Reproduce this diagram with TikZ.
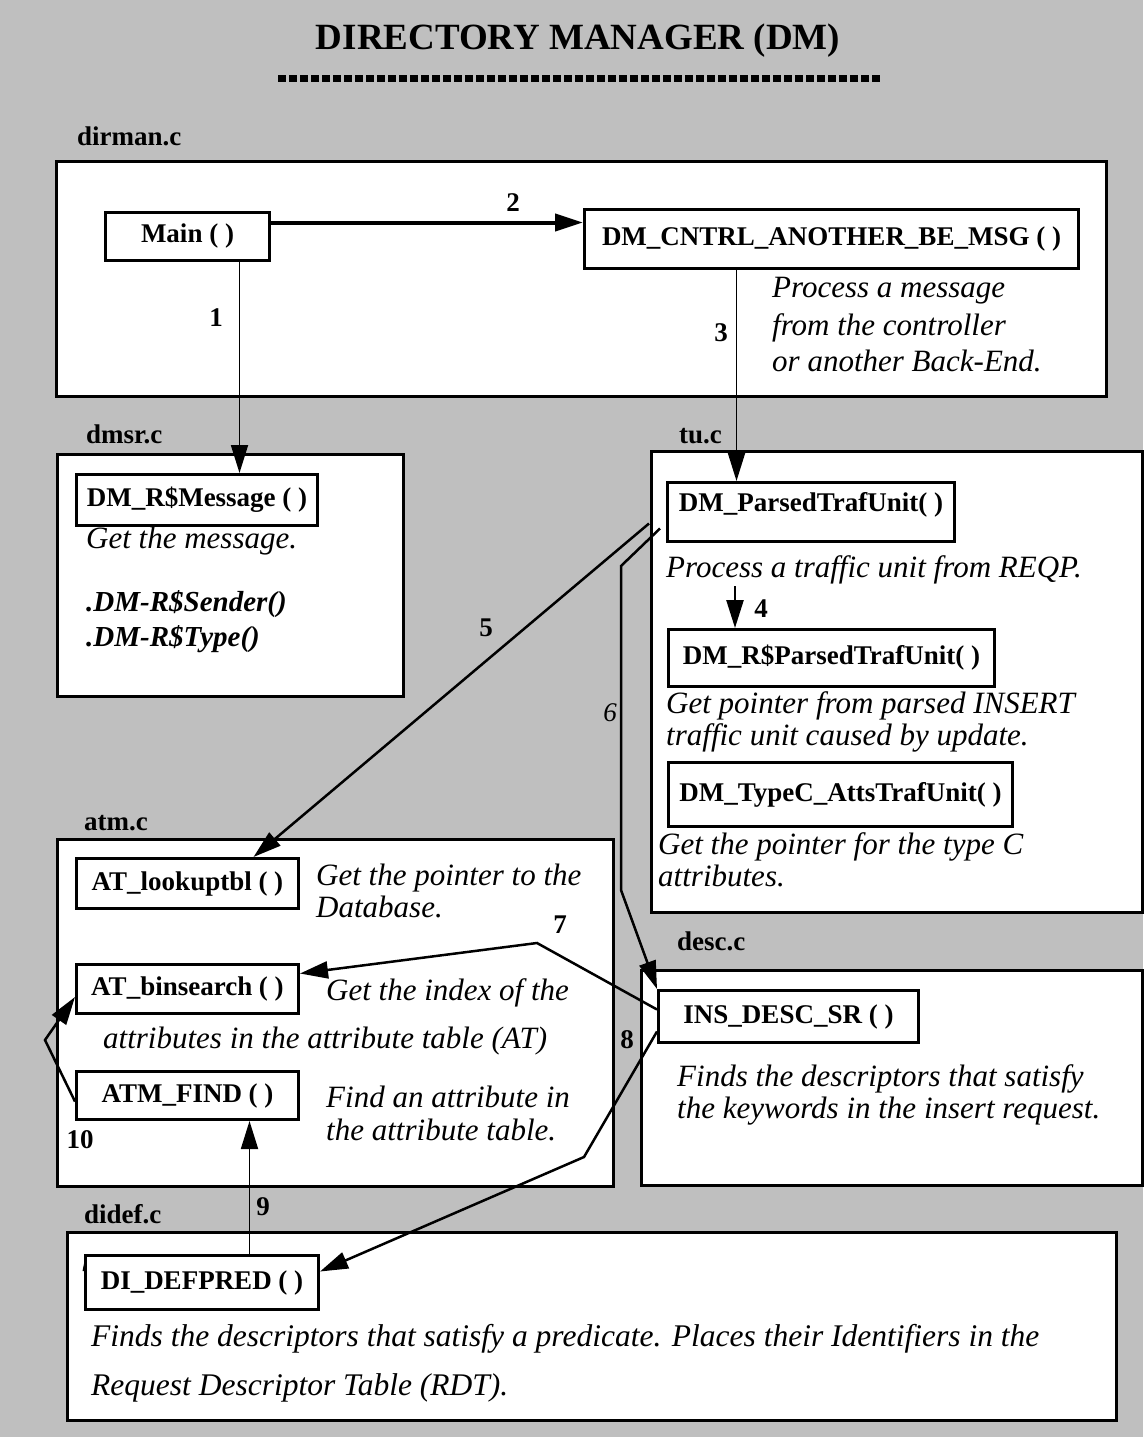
\documentclass[tikz,border=0pt]{standalone}
\usepackage{fontspec}
\setmainfont{Liberation Serif}
\usetikzlibrary{arrows.meta}
\definecolor{halftone}{gray}{0.75}
\newcommand\fnfont{\fontsize{27}{30}\selectfont\bfseries}
\newcommand\dsfont{\fontsize{31}{37}\selectfont\itshape}
\begin{document}
\begin{tikzpicture}[x=1pt,y=-1pt,
  grp/.style={draw, line width=2.5pt, fill=white, inner sep=0pt, anchor=north west},
  fn/.style={draw, line width=3pt, fill=white, inner sep=0pt, anchor=north west, font=\fnfont},
  note/.style={anchor=base west, inner sep=0pt, font=\dsfont},
  filelbl/.style={anchor=base west, inner sep=0pt, font=\fnfont},
  num/.style={inner sep=0pt, font=\fnfont},
  conn/.style={line width=2.5pt, -{Triangle[length=28pt,width=17pt]}},
  thinconn/.style={conn, line width=1.8pt}]

% page and halftone background
\useasboundingbox (0,0) rectangle (1143,1437);
\fill[halftone] (0,0) rectangle (1143,1437);

% title and rule
\node[anchor=base, inner sep=0pt, font=\fontsize{37}{40}\selectfont\bfseries] (title) at (578,50) {DIRECTORY MANAGER (DM)};
\coordinate (r1) at (278,78);
\coordinate (r2) at (880,78);
\draw[line width=7pt, dash pattern=on 8pt off 3pt] (r1) -- (r2);

% source files
\node[filelbl] (ldirman) at (77,145) {dirman.c};
\node[grp, minimum width=1050, minimum height=235] (dirman) at (55,160) {};
\node[filelbl] (ldmsr) at (86,443) {dmsr.c};
\node[grp, minimum width=346, minimum height=242] (dmsr) at (56,453) {};
\node[filelbl] (ltu) at (679,443) {tu.c};
\node[grp, minimum width=491, minimum height=461] (tu) at (650,450) {};
\node[filelbl] (latm) at (84,830) {atm.c};
\node[grp, minimum width=556, minimum height=347] (atm) at (56,838) {};
\node[filelbl] (ldesc) at (677,950) {desc.c};
\node[grp, minimum width=501, minimum height=215] (descf) at (640,969) {};
\node[filelbl] (ldidef) at (84,1223) {didef.c};
\node[grp, minimum width=1049, minimum height=188] (didef) at (66,1231) {};

% dirman.c
\node[fn, minimum width=164, minimum height=48] (main) at (104,211) {Main ( )};
\node[fn, minimum width=494, minimum height=59] (cntrl) at (583,208) {DM\_CNTRL\_ANOTHER\_BE\_MSG ( )};
\node[note] (t1a) at (772,297) {Process a message};
\node[note] (t1b) at (772,335) {from the controller};
\node[note] (t1c) at (772,371) {or another Back-End.};

% dmsr.c
\node[fn, minimum width=241, minimum height=51] (dmmsg) at (75,473) {DM\_R\$Message ( )};
\node[note] (t2a) at (86,548) {Get the message.};
\node[note, font=\fontsize{29}{33}\selectfont\itshape\bfseries] (t2b) at (86,611) {.DM-R\$Sender()};
\node[note, font=\fontsize{29}{33}\selectfont\itshape\bfseries] (t2c) at (86,646) {.DM-R\$Type()};

% tu.c
\node[fn, minimum width=287, minimum height=59, text depth=20pt] (dmpars) at (666,481) {DM\_ParsedTrafUnit( )};
\node[note] (t3a) at (666,577) {Process a traffic unit from REQP.};
\node[fn, minimum width=326, minimum height=57] (rpars) at (667,628) {DM\_R\$ParsedTrafUnit( )};
\node[note] (t3b) at (666,713) {Get pointer from parsed INSERT};
\node[note] (t3c) at (666,745) {traffic unit caused by update.};
\node[fn, minimum width=344, minimum height=64] (typec) at (667,761) {DM\_TypeC\_AttsTrafUnit( )};
\node[note] (t3d) at (658,854) {Get the pointer for the type C};
\node[note] (t3e) at (658,886) {attributes.};

% atm.c
\node[fn, minimum width=222, minimum height=50] (lookup) at (75,857) {AT\_lookuptbl ( )};
\node[note] (t4a) at (316,885) {Get the pointer to the};
\node[note] (t4b) at (316,917) {Database.};
\node[fn, minimum width=222, minimum height=49] (binsearch) at (75,963) {AT\_binsearch ( )};
\node[note] (t4c) at (326,1000) {Get the index of the};
\node[note] (t4d) at (103,1048) {attributes in the attribute table (AT)};
\node[fn, minimum width=222, minimum height=48] (atmfind) at (75,1070) {ATM\_FIND ( )};
\node[note] (t4e) at (326,1107) {Find an attribute in};
\node[note] (t4f) at (326,1140) {the attribute table.};

% desc.c
\node[fn, minimum width=260, minimum height=52] (insdesc) at (657,989) {INS\_DESC\_SR ( )};
\node[note] (t5a) at (677,1086) {Finds the descriptors that satisfy};
\node[note] (t5b) at (677,1118) {the keywords in the insert request.};

% didef.c
\node[fn, minimum width=233, minimum height=54] (defpred) at (84,1254) {DI\_DEFPRED ( )};
\node[note, font=\fontsize{31.5}{37}\selectfont\itshape] (t6a) at (91,1346) {Finds the descriptors that satisfy a predicate. Places their Identifiers in the};
\node[note, font=\fontsize{31.5}{37}\selectfont\itshape] (t6b) at (91,1395) {Request Descriptor Table (RDT).};
\fill (82.5,1271) -- (84.5,1261) -- (86.5,1271) -- cycle;

% call connectors
\draw[thinconn] ([xshift=52pt]main.south) coordinate (a1) -- (a1 |- dmmsg.north);
\draw[conn, line width=4pt] ([yshift=14pt]main.east) coordinate (a2) -- (a2 -| cntrl.west);
\draw[thinconn] ([xshift=-95pt]cntrl.south) coordinate (a3) -- (a3 |- dmpars.north);
\coordinate (a4) at (735,586);
\draw[conn] (a4) -- (a4 |- rpars.north);
\draw[conn] ([xshift=-17pt,yshift=-11.5pt]dmpars.west) -- ([xshift=66pt]lookup.north);
\coordinate (b6a) at (621,566);
\coordinate (b6b) at (621,890);
\draw[conn] ([xshift=-6pt,yshift=-16.5pt]dmpars.west) -- (b6a) -- (b6b) -- (insdesc.north west);
\coordinate (b7) at (537,943);
\draw[conn] ([yshift=7pt]insdesc.west) -- (b7) -- ([yshift=15.5pt]binsearch.east);
\coordinate (b8) at (584,1157);
\draw[conn] ([yshift=-15pt]insdesc.west) -- (b8) -- ([yshift=11pt]defpred.east);
\draw[thinconn] ([xshift=47.5pt]defpred.north) coordinate (a9) -- (a9 |- atmfind.south);
\coordinate (b10) at (45,1040);
\draw[conn] ([yshift=-6pt]atmfind.west) -- (b10) -- ([yshift=-8pt]binsearch.west);

% step numbers
\node[num] (n1) at (216,318) {1};
\node[num] (n2) at (513,203) {2};
\node[num] (n3) at (721,333) {3};
\node[num] (n4) at (761,609) {4};
\node[num] (n5) at (486,628) {5};
\node[num, font=\fnfont\mdseries\itshape] (n6) at (610,713) {6};
\node[num] (n7) at (560,925) {7};
\node[num] (n8) at (627,1040) {8};
\node[num] (n9) at (263,1207) {9};
\node[num] (n10) at (80,1140) {10};
\end{tikzpicture}
\end{document}
